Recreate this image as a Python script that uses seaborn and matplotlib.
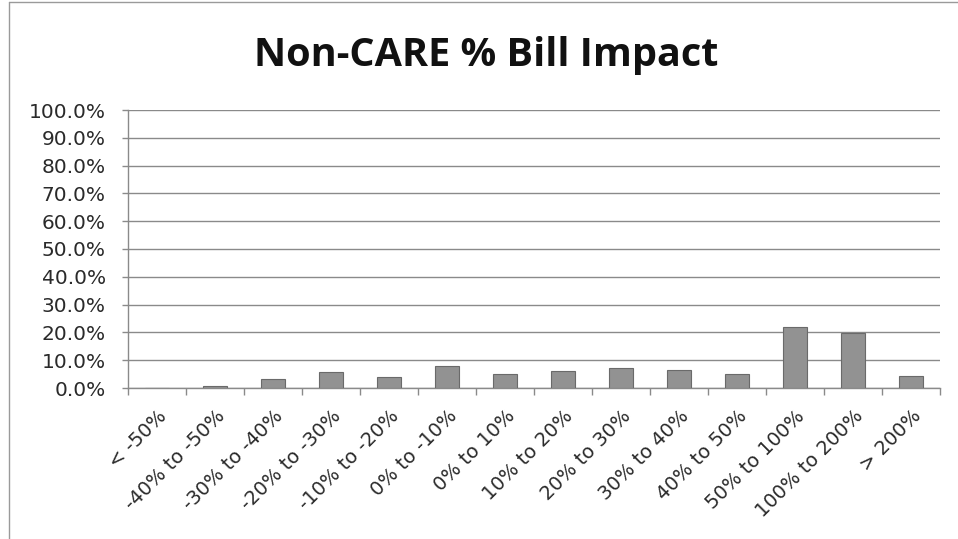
import matplotlib
matplotlib.use("Agg")
import matplotlib.pyplot as plt
import matplotlib.transforms as mtransforms
from matplotlib.lines import Line2D
from matplotlib.ticker import FixedLocator, PercentFormatter
import seaborn as sns
import pandas as pd

# Bill impact buckets and share of Non-CARE customers in each (%)
categories = ["< -50%", "-40% to -50%", "-30% to -40%", "-20% to -30%",
              "-10% to -20%", "0% to -10%", "0% to 10%", "10% to 20%",
              "20% to 30%", "30% to 40%", "40% to 50%", "50% to 100%",
              "100% to 200%", "> 200%"]
shares = [0.0, 0.6, 3.2, 5.9, 3.8, 7.9, 5.1, 6.0, 7.2, 6.5, 5.2, 21.9, 19.8, 4.4]
y_ticks = [0, 10, 20, 30, 40, 50, 60, 70, 80, 90, 100]

df = pd.DataFrame({"bucket": categories, "share": shares})

sns.set_theme(style="white")
plt.rcParams["font.family"] = ["DejaVu Sans"]

fig = plt.figure(figsize=(9.58, 5.39), dpi=100)
ax = fig.add_axes([128 / 958, 1 - 388 / 539, (940 - 128) / 958, (388 - 110) / 539])

sns.barplot(data=df, x="bucket", y="share", ax=ax, color="#929292",
            width=0.43, edgecolor="#6a6a6a", linewidth=0.8, zorder=3)

ax.set_ylim(0, 100)
ax.set_xlim(-0.5, len(categories) - 0.5)
ax.yaxis.set_major_locator(FixedLocator(y_ticks))
ax.yaxis.set_major_formatter(PercentFormatter(decimals=1))
ax.grid(axis="y", color="#8a8a8a", linewidth=1.0, zorder=0)
ax.set_axisbelow(True)

for side in ("top", "right"):
    ax.spines[side].set_visible(False)
for side in ("left", "bottom"):
    ax.spines[side].set_color("#8a8a8a")
    ax.spines[side].set_linewidth(1.0)

ax.set_xlabel("")
ax.set_ylabel("")

# category boundary ticks below the axis
ax.set_xticks([i - 0.5 for i in range(len(categories) + 1)], minor=True)
ax.tick_params(axis="x", which="minor", bottom=True, length=5, width=1, color="#8a8a8a")
ax.tick_params(axis="x", which="major", bottom=True, length=0, pad=18,
               labelsize=14, labelcolor="#2a2a2a")
ax.tick_params(axis="y", which="major", left=True, length=4, width=1, color="#8a8a8a",
               pad=12, labelsize=14.5, labelcolor="#2a2a2a")

ax.set_xticks(range(len(categories)))
ax.set_xticklabels(categories, rotation=45, ha="right", va="center",
                   rotation_mode="anchor")
offset = mtransforms.ScaledTranslation(7 / 100, 0, fig.dpi_scale_trans)
for lbl in ax.get_xticklabels():
    lbl.set_transform(lbl.get_transform() + offset)

fig.text(0.508, 0.897, "Non-CARE % Bill Impact", ha="center", va="center",
         fontsize=28.5, fontweight="bold", family=["Open Sans", "DejaVu Sans"],
         color="#111111")

# chart frame edges
fig.add_artist(Line2D([9 / 958, 9 / 958], [0, 1 - 2 / 539], transform=fig.transFigure,
                      color="#9a9a9a", linewidth=1.0))
fig.add_artist(Line2D([9 / 958, 1], [1 - 2 / 539, 1 - 2 / 539], transform=fig.transFigure,
                      color="#9a9a9a", linewidth=1.0))

fig.savefig("out.png", dpi=100, facecolor="white")
